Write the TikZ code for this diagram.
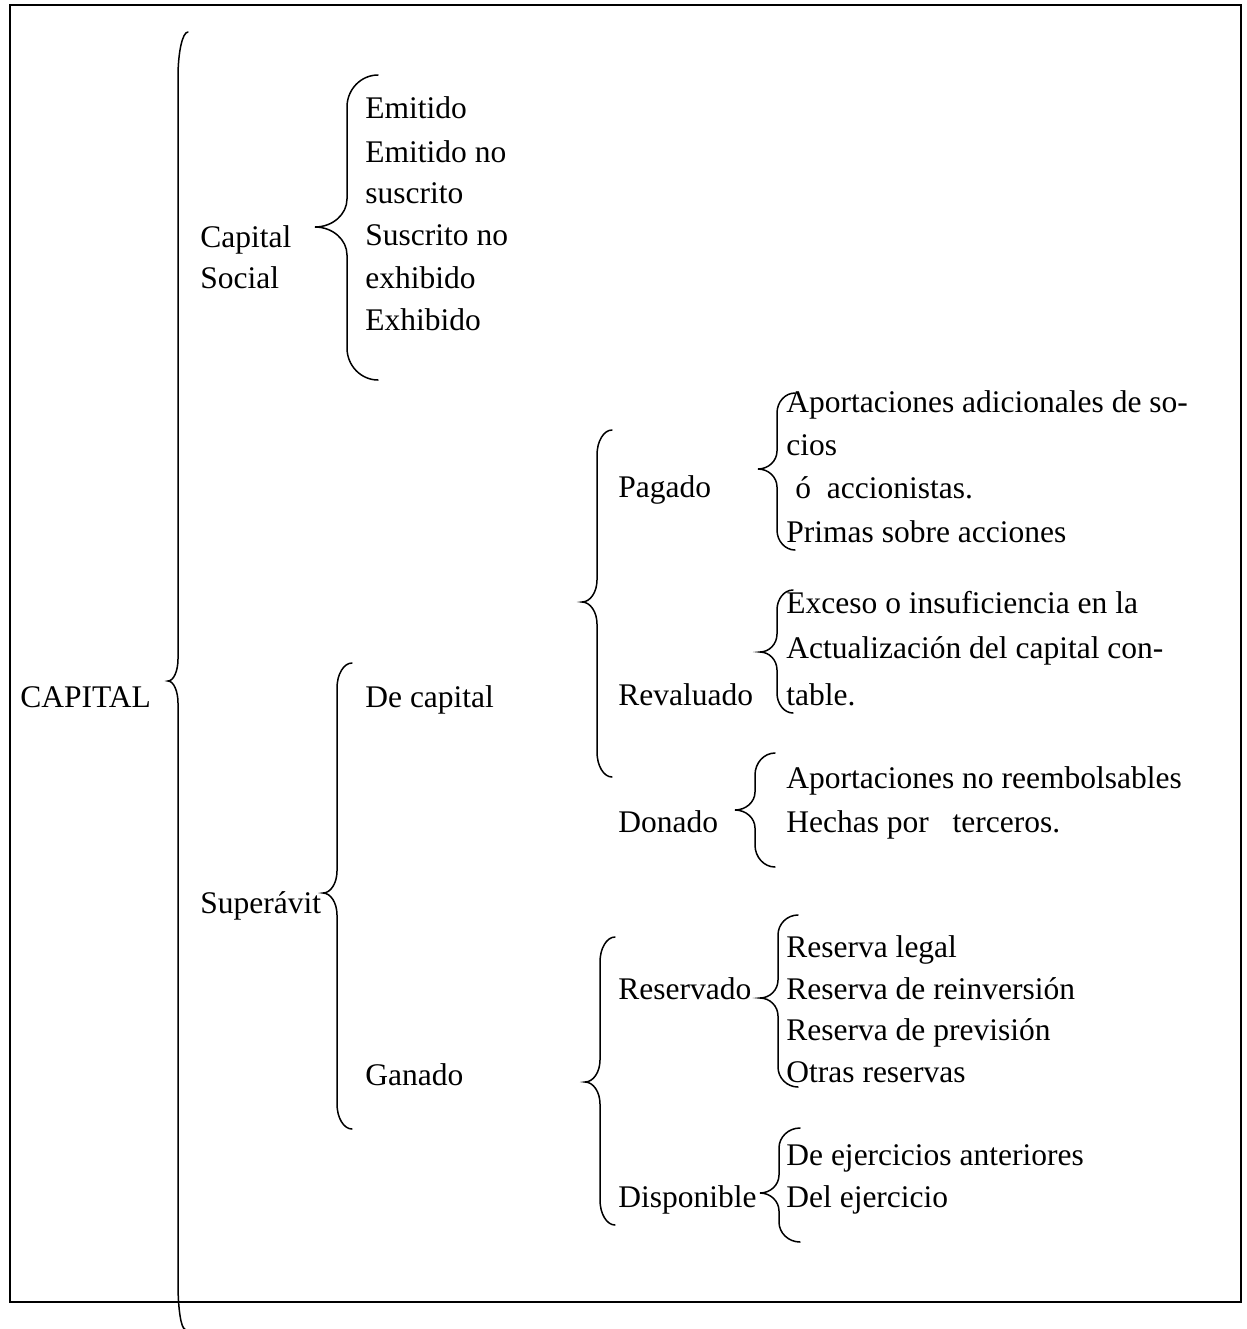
\documentclass[tikz,border=0pt]{standalone}
\usepackage{fontspec}
\setmainfont{Liberation Serif}
\newcommand{\lblfont}{\fontsize{15.75}{18}\selectfont}
% curly brace: #1 tx, #2 ty, #3 vx, #4 px, #5 py, #6 bx, #7 by, #8 end bend, #9 tip bend
\newcommand{\cbr}[9]{%
\draw[bline] (#1,#2) .. controls ({#3+0.45*(#1-#3)},#2) and (#3,{#2+0.45*#8}) .. (#3,{#2+#8})
 -- (#3,{#5-#9}) .. controls (#3,{#5-0.45*#9}) and ({#4+0.55*(#3-#4)},#5) .. (#4,#5)
 .. controls ({#4+0.55*(#3-#4)},#5) and (#3,{#5+0.45*#9}) .. (#3,{#5+#9})
 -- (#3,{#7-#8}) .. controls (#3,{#7-0.45*#8}) and ({#3+0.45*(#6-#3)},#7) .. (#6,#7);}
\begin{document}
\begin{tikzpicture}[x=0.5pt,y=-0.5pt,
  lbl/.style={anchor=base west,inner sep=0pt,font=\lblfont},
  bline/.style={line width=0.75pt,line cap=round},
  frameline/.style={line width=1pt}]
\useasboundingbox (0,0) rectangle (1247,1329);
\draw[frameline] (10,5) rectangle (1241,1302);

% level 0
\node[lbl] (capital) at (20,707) {CAPITAL};
\cbr{188}{32}{178}{168}{681}{185}{1329}{45}{22}

% level 1
\node[lbl] (cs1) at (200,247) {Capital};
\node[lbl] (cs2) at (200,288) {Social};
\node[lbl] (sup) at (200,913) {Superávit};

% Capital social items
\cbr{378}{75}{347}{315}{227}{378}{380}{32}{28}
\node[lbl] (e1) at (365,118) {Emitido};
\node[lbl] (e2) at (365,162) {Emitido no};
\node[lbl] (e3) at (365,203) {suscrito};
\node[lbl] (e4) at (365,245) {Suscrito no};
\node[lbl] (e5) at (365,288) {exhibido};
\node[lbl] (e6) at (365,330) {Exhibido};

% Superavit
\cbr{352}{663}{337}{323}{893}{352}{1129}{25}{22}
\node[lbl] (decap) at (365,707) {De capital};
\node[lbl] (ganado) at (365,1085) {Ganado};

% De capital
\cbr{612}{430}{597}{582}{602}{612}{777}{25}{22}
\node[lbl] (pagado) at (618,497) {Pagado};
\node[lbl] (reval) at (618,705) {Revaluado};
\node[lbl] (donado) at (618,832) {Donado};

% Pagado
\cbr{795}{393}{777}{758}{469}{795}{550}{20}{18}
\node[lbl] (p1) at (786,412) {Aportaciones adicionales de so-};
\node[lbl] (p2) at (786,455) {cios};
\node[lbl] (p3) at (795,498) {ó~~accionistas.};
\node[lbl] (p4) at (786,542) {Primas sobre acciones};

% Revaluado
\cbr{793}{590}{777}{760}{652}{793}{713}{20}{18}
\node[lbl] (r1) at (786,613) {Exceso o insuficiencia en la};
\node[lbl] (r2) at (786,658) {Actualización del capital con-};
\node[lbl] (r3) at (786,705) {table.};

% Donado
\cbr{775}{753}{755}{735}{810}{775}{867}{22}{18}
\node[lbl] (d1) at (786,788) {Aportaciones no reembolsables};
\node[lbl] (d2) at (786,832) {Hechas por~~~terceros.};

% Ganado
\cbr{615}{937}{600}{585}{1082}{615}{1225}{25}{22}
\node[lbl] (reserv) at (618,999) {Reservado};
\node[lbl] (dispon) at (618,1207) {Disponible};

% Reservado
\cbr{798}{915}{778}{760}{998}{798}{1087}{20}{18}
\node[lbl] (rs1) at (786,957) {Reserva legal};
\node[lbl] (rs2) at (786,999) {Reserva de reinversión};
\node[lbl] (rs3) at (786,1040) {Reserva de previsión};
\node[lbl] (rs4) at (786,1082) {Otras reservas};

% Disponible
\cbr{800}{1128}{779}{760}{1193}{800}{1242}{20}{18}
\node[lbl] (ds1) at (786,1165) {De ejercicios anteriores};
\node[lbl] (ds2) at (786,1207) {Del ejercicio};
\end{tikzpicture}
\end{document}
